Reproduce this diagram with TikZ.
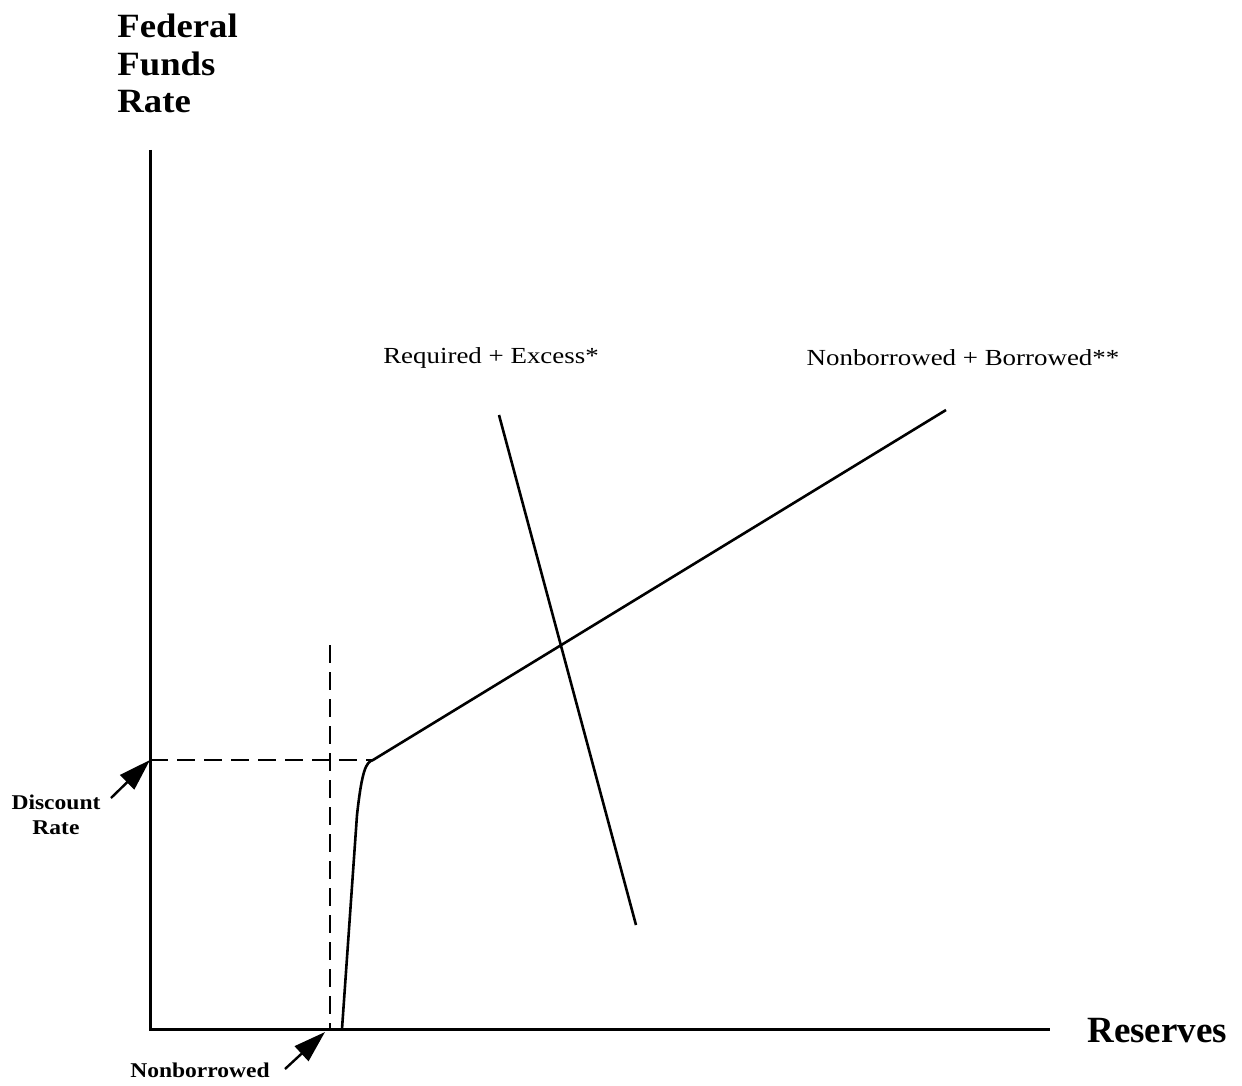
\documentclass[tikz,border=0pt]{standalone}
\usepackage{fontspec}
\setmainfont{Liberation Serif}
\usetikzlibrary{arrows.meta}
\begin{document}
\begin{tikzpicture}[x=0.5pt,y=-0.5pt,
  axis/.style={line width=1.5pt},
  curve/.style={line width=1.3pt},
  guide/.style={line width=1.3pt, dash pattern=on 9pt off 4.5pt},
  pointer/.style={line width=1.2pt,-{Triangle[length=16pt,width=10pt]}},
  lbl/.style={font=\addfontfeature{FakeStretch=1.17}\fontsize{11.5}{13}\selectfont, inner sep=0pt},
  small/.style={font=\bfseries\addfontfeature{FakeStretch=1.12}\fontsize{10.5}{12.5}\selectfont, inner sep=0pt, align=center},
  big/.style={font=\bfseries\addfontfeature{FakeStretch=1.08}\fontsize{17}{18.7}\selectfont, inner sep=0pt, align=left}]
\useasboundingbox (0,0) rectangle (1242,1086);
% axes
\coordinate (O) at (150,1029);
\coordinate (ytop) at (150,150);
\coordinate (xend) at (1050,1029);
\draw[axis] (ytop) -- (O) -- (xend);
% titles
\node[big, anchor=north west] (ffr) at (117,14) {Federal\\Funds\\Rate};
\node[font=\bfseries\fontsize{18.5}{20}\selectfont, inner sep=0pt, anchor=west] (res) at (1087,1031) {Reserves};
% guides
\coordinate (dr) at (150,760);
\coordinate (kink) at (373,760);
\coordinate (nbtop) at (330,645);
\coordinate (nb) at (330,1029);
\draw[guide] (dr) -- (kink);
\draw[guide] (nbtop) -- (nb);
% supply curve
\coordinate (sbot) at (342,1029);
\coordinate (send) at (946,410);
\draw[curve] (sbot) -- (357,815) .. controls (362,770) and (366,762) .. (kink) -- (send);
% demand curve
\coordinate (dtop) at (499,415);
\coordinate (dbot) at (636,925);
\draw[curve] (dtop) -- (dbot);
% curve labels
\node[lbl] (rel) at (491,358) {Required + Excess*};
\node[lbl] (nbl) at (963,358) {Nonborrowed + Borrowed**};
% pointers
\node[small] (drl) at (56,815) {Discount\\Rate};
\coordinate (drtail) at (111,798);
\draw[pointer] (drtail) -- (dr);
\node[small] (nbl2) at (200,1070) {Nonborrowed};
\coordinate (nbtail) at (285,1069);
\draw[pointer] (nbtail) -- (325,1032);
\end{tikzpicture}
\end{document}
